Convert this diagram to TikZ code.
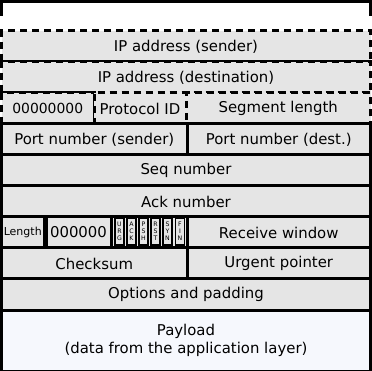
\documentclass[tikz,border=0pt]{standalone}
\usepackage{fontspec}
\setmainfont{DejaVu Sans}
\definecolor{cellgray}{HTML}{E5E5E5}
\definecolor{payfill}{HTML}{F6F8FD}
\tikzset{
  cell/.style={draw=black, line width=3pt, fill=cellgray, rectangle, inner sep=0pt,
    minimum height=31pt, font=\fontsize{14.9}{18}\selectfont},
  dcell/.style={cell, dash pattern=on 7pt off 5pt},
  flag/.style={draw=black, line width=1.2pt, fill=cellgray, rectangle, inner sep=0pt,
    minimum width=9pt, minimum height=27pt, align=center, font=\fontsize{6.2}{7.2}\selectfont},
}
\begin{document}
\begin{tikzpicture}[x=1pt,y=-1pt]
\useasboundingbox (0,0) rectangle (372,371);
% top partial box
\coordinate (tl) at (1.5,16);
\coordinate (tr) at (370.5,16);
\draw[line width=3pt] (tl) -- (1.5,1.5) -- (370.5,1.5) -- (tr);
% pseudo header (dashed)
\fill[cellgray] (1.5,31) rectangle (370.5,124);
\node[dcell, minimum width=369pt] (ips) at (186,46.5) {IP address (sender)};
\node[dcell, minimum width=369pt] (ipd) at (186,77.5) {IP address (destination)};
\node[dcell, minimum width=92.5pt, font=\fontsize{13.9}{16}\selectfont] (zeros) at (47.75,108.5) {00000000};
\node[dcell, minimum width=92pt] (proto) at (140,108.5) {Protocol ID};
\node[dcell, minimum width=184.5pt] (seglen) at (278.25,108.5) {Segment length};
% TCP header
\node[cell, minimum width=185.5pt] (psend) at (94.25,139.5) {Port number (sender)};
\node[cell, minimum width=183.5pt] (pdest) at (278.75,139.5) {Port number (dest.)};
\node[cell, minimum width=369pt] (seq) at (186,170.5) {Seq number};
\node[cell, minimum width=369pt] (ack) at (186,201.5) {Ack number};
\node[cell, minimum width=369pt] (row4) at (186,232.5) {};
\node[cell, minimum width=42.5pt, font=\fontsize{11}{13}\selectfont] (len) at (22.75,232.5) {Length};
\node[cell, minimum width=65pt] (res) at (78.5,232.5) {000000};
\node[flag] (urg) at (119.5,231.5) {U\\R\\G};
\node[flag] (ackf) at (131.5,231.5) {A\\C\\K};
\node[flag] (psh) at (143.5,231.5) {P\\S\\H};
\node[flag] (rst) at (155.5,231.5) {R\\S\\T};
\node[flag] (syn) at (167.5,231.5) {S\\Y\\N};
\node[flag] (fin) at (180,231.5) {F\\I\\N};
\node[cell, minimum width=183.5pt] (rwin) at (278.75,232.5) {Receive window};
\node[cell, minimum width=185.5pt] (chk) at (94.25,263.5) {Checksum};
\node[cell, minimum width=183.5pt] (urgp) at (278.75,263.5) {Urgent pointer};
\node[cell, minimum width=369pt] (opt) at (186,294.5) {Options and padding};
\node[cell, fill=payfill, minimum width=369pt, minimum height=61pt, align=center] (pay) at (186,340.5) {Payload\\(data from the application layer)};
\end{tikzpicture}
\end{document}
